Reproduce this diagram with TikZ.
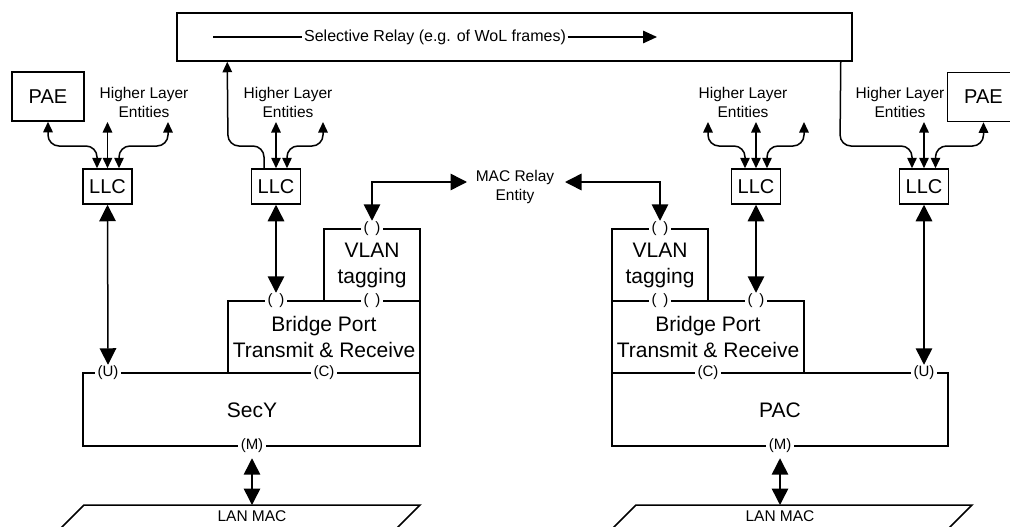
\documentclass[tikz,border=0pt]{standalone}
\usepackage{fontspec}
\setmainfont{Liberation Sans}
\usetikzlibrary{arrows.meta,calc}
\newcommand\fsz[2]{\fontsize{#1pt}{#2pt}\selectfont}
\newcommand\emptyport{(\hspace{7pt})}
\begin{document}
\begin{tikzpicture}[x=1pt,y=-1pt, line width=1.5pt,
  box/.style={draw, inner sep=0pt, align=center},
  port/.style={fill=white, inner xsep=2.5pt, inner ysep=0.5pt, font=\fsz{15}{17}},
  small/.style={{Triangle[width=9.5pt,length=10.5pt]}-{Triangle[width=9.5pt,length=10.5pt]}},
  smallend/.style={-{Triangle[width=9.5pt,length=10.5pt]}},
  big/.style={{Triangle[width=16.5pt,length=16.5pt]}-{Triangle[width=16.5pt,length=16.5pt]}},
  hl/.style={align=center, font=\fsz{15.5}{19}, inner sep=0pt},
  bigtext/.style={align=center, font=\fsz{21}{26}},
  roundbend/.style={rounded corners=11pt}]
\useasboundingbox (0,0) rectangle (1010,527);

% Relay box
\node[box, minimum width=675pt, minimum height=48pt] (relay) at (514.5,37) {};
\node[font=\fsz{16}{19}, inner xsep=1pt] (rtext) at (435,37) {Selective Relay (e.g. of WoL frames)};
\coordinate (rl1) at (213,37);
\coordinate (rl2) at (657,37);
\draw (rl1) -- (rtext.west);
\draw[-{Triangle[width=12.5pt,length=14pt]}] (rtext.east) -- (rl2);

% PAE boxes
\node[box, minimum width=72pt, minimum height=49pt, font=\fsz{20}{24}] (pae1) at (48,96.5) {PAE};
\node[box, minimum width=72pt, minimum height=49pt, font=\fsz{20}{24}] (pae2) at (983.5,97) {PAE};

% Higher layer texts
\node[hl] (hl1) at (144,102.5) {Higher Layer\\Entities};
\node[hl] (hl2) at (288,102.5) {Higher Layer\\Entities};
\node[hl] (hl3) at (743,102.5) {Higher Layer\\Entities};
\node[hl] (hl4) at (900,102.5) {Higher Layer\\Entities};

% LLC boxes
\node[box, minimum width=49pt, minimum height=35pt, font=\fsz{20}{24}] (llc1) at (107.5,186.5) {LLC};
\node[box, minimum width=49pt, minimum height=35pt, font=\fsz{20}{24}] (llc2) at (276,186.5) {LLC};
\node[box, minimum width=49pt, minimum height=35pt, font=\fsz{20}{24}] (llc3) at (756,186.5) {LLC};
\node[box, minimum width=49pt, minimum height=35pt, font=\fsz{20}{24}] (llc4) at (924,186.5) {LLC};

% free ends of higher-layer arrows
\coordinate (t1m) at (107.5,122);
\coordinate (t1r) at (168,122);
\coordinate (t2m) at (276,122);
\coordinate (t2r) at (323,122);
\coordinate (t3l) at (708,122);
\coordinate (t3m) at (756,122);
\coordinate (t3r) at (804,122);
\coordinate (t4m) at (924,122);

% LLC1 arrows
\draw[small, roundbend] (pae1.south) -- (48,146) -| ([xshift=-10.5pt]llc1.north);
\draw[small] (t1m) -- (llc1.north);
\draw[small, roundbend] (t1r) -- (168,146) -| ([xshift=11.5pt]llc1.north);
% LLC2 arrows
\draw[smallend, roundbend] ([xshift=-12pt]llc2.north) |- (228,146) -- ([xshift=51pt]relay.south west);
\draw[small] (t2m) -- (llc2.north);
\draw[small, roundbend] (t2r) -- (323,146) -| ([xshift=11pt]llc2.north);
% LLC3 arrows
\draw[small, roundbend] (t3l) -- (708,146) -| ([xshift=-11pt]llc3.north);
\draw[small] (t3m) -- (llc3.north);
\draw[small, roundbend] (t3r) -- (804,146) -| ([xshift=11pt]llc3.north);
% LLC4 arrows
\draw[smallend, roundbend] ([xshift=-12pt]relay.south east) -- (840,146) -| ([xshift=-12pt]llc4.north);
\draw[small] (t4m) -- (llc4.north);
\draw[small, roundbend] (pae2.south) -- (983.5,146) -| ([xshift=11.5pt]llc4.north);

% Left stack
\node[box, minimum width=96pt, minimum height=72pt] (vlan1) at (372,265) {};
\node[bigtext] at (372,265) {VLAN\\tagging};
\node[box, minimum width=192pt, minimum height=72pt] (bp1) at (324,337) {};
\node[bigtext] at (324,337) {Bridge Port\\Transmit \& Receive};
\node[box, minimum width=337pt, minimum height=73pt] (secy) at (251.5,409.5) {};
\node[bigtext] at (252,410) {SecY};

% Right stack
\node[box, minimum width=96pt, minimum height=72pt] (vlan2) at (660,265) {};
\node[bigtext] at (660,265) {VLAN\\tagging};
\node[box, minimum width=192pt, minimum height=72pt] (bp2) at (708,337) {};
\node[bigtext] at (708,337) {Bridge Port\\Transmit \& Receive};
\node[box, minimum width=336pt, minimum height=73pt] (pac) at (780,409.5) {};
\node[bigtext] at (780,410) {PAC};

% Port labels
\node[port] (u1) at (108,373) {(U)};
\node[port] (c1) at (324,373) {(C)};
\node[port] (m1) at (252,446) {(M)};
\node[port] (p1a) at (276,301) {\emptyport};
\node[port] (p1b) at (372,301) {\emptyport};
\node[port] (p1c) at (372,229) {\emptyport};
\node[port] (u2) at (924,373) {(U)};
\node[port] (c2) at (708,373) {(C)};
\node[port] (m2) at (780,446) {(M)};
\node[port] (p2a) at (756,301) {\emptyport};
\node[port] (p2b) at (660,301) {\emptyport};
\node[port] (p2c) at (660,229) {\emptyport};

% LAN MAC
\draw (59,530) -- (84,505) -- (420,505) -- (395,530);
\draw (611,530) -- (636,505) -- (972,505) -- (947,530);
\node[font=\fsz{15.5}{18}] (lan1) at (252,516) {LAN MAC};
\node[font=\fsz{15.5}{18}] (lan2) at (780,516) {LAN MAC};
\coordinate (lan1top) at (252,505);
\coordinate (lan2top) at (780,505);

% Big arrows
\draw[big] (llc1.south) -- (u1.north);
\draw[big] (llc2.south) -- (p1a.north);
\draw[big] (llc3.south) -- (p2a.north);
\draw[big] (llc4.south) -- (u2.north);
\draw[big, shorten <=4pt] (m1.south) -- (lan1top);
\draw[big, shorten <=4pt] (m2.south) -- (lan2top);

% MAC relay entity
\node[hl, font=\fsz{15.5}{18.5}] (mre) at (515,187) {MAC Relay\\Entity};
\coordinate (mrl) at (467,182);
\coordinate (mrr) at (565,182);
\draw[big] (p1c.north) |- (mrl);
\draw[big] (mrr) -| (p2c.north);
\end{tikzpicture}
\end{document}
